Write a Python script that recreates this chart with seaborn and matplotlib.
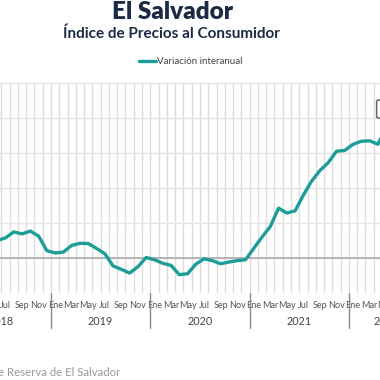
import matplotlib
matplotlib.use('Agg')
import matplotlib.pyplot as plt
import seaborn as sns
import pandas as pd
from matplotlib.patches import FancyBboxPatch
from matplotlib.transforms import blended_transform_factory

# monthly year-on-year CPI change, Jan 2018 - Sep 2022
years = [2018, 2019, 2020, 2021, 2022]
month_names = ['Ene', 'Feb', 'Mar', 'Abr', 'May', 'Jun', 'Jul', 'Ago', 'Sep', 'Oct', 'Nov', 'Dic']
variacion = [
    0.6, 0.7, 0.9, 1.0, 1.1, 1.0, 1.15, 1.49, 1.38, 1.54, 1.25, 0.42,
    0.29, 0.34, 0.72, 0.84, 0.83, 0.55, 0.25, -0.45, -0.65, -0.86, -0.5, 0.03,
    -0.1, -0.3, -0.42, -0.95, -0.9, -0.35, -0.05, -0.15, -0.33, -0.23, -0.15, -0.1,
    0.55, 1.2, 1.8, 2.85, 2.57, 2.7, 3.6, 4.4, 5.0, 5.45, 6.1, 6.15,
    6.5, 6.67, 6.7, 6.5, 7.47, 7.76, 7.63, 7.4, 7.5,
]
n = len(variacion)
df = pd.DataFrame({
    'idx': range(n),
    'year': [years[i // 12] for i in range(n)],
    'mes': [month_names[i % 12] for i in range(n)],
    'valor': variacion,
})

sns.set_style('white')
plt.rcParams['font.family'] = ['Lato', 'DejaVu Sans']

fig = plt.figure(figsize=(3.8, 3.8), dpi=100)
# plot area is wider than the canvas (chart is cropped on both sides)
ax = fig.add_axes([-0.1271, 0.2289, 1.2413, 0.5526])

sns.lineplot(data=df, x='idx', y='valor', ax=ax, color='#1c9d98', linewidth=2.4,
             label='Variación interanual', solid_joinstyle='round', solid_capstyle='round')

ax.set_xlim(-0.5, n - 0.5)
ax.set_ylim(-2, 10)
ax.set_yticks([0, 2, 4, 6, 8, 10])
ax.set_yticklabels([])
ax.set_xticks([i for i in range(n) if i % 2 == 0])
ax.set_xticklabels([df['mes'][i] for i in range(n) if i % 2 == 0], fontsize=6.5, color='#555555')
ax.set_xticks([i - 0.5 for i in range(n + 1)], minor=True)
ax.tick_params(axis='x', which='both', length=0, pad=6)
ax.tick_params(axis='y', length=0)
ax.grid(True, axis='y', color='#e3e3e3', linewidth=1)
ax.grid(True, axis='x', which='minor', color='#dddddd', linewidth=1)
ax.grid(False, axis='x', which='major')
ax.axhline(0, color='#b0b0b0', linewidth=1.3, zorder=1.5)
ax.set_xlabel('')
ax.set_ylabel('')
for s in ax.spines.values():
    s.set_visible(False)

trans = blended_transform_factory(ax.transData, ax.transAxes)
for k, yr in enumerate(years):
    start = k * 12 - 0.5
    end = min(start + 12, n - 0.5)
    if k > 0:
        ax.plot([start, start], [0, -0.167], transform=trans, color='#888888',
                linewidth=1, clip_on=False)
    ax.text((start + end) / 2, -0.138, str(yr), transform=trans, ha='center', va='center',
            fontsize=7.8, color='#444444')

box = FancyBboxPatch((50.85, 8.0), 6, 1.03, boxstyle='round,pad=0,rounding_size=0.3',
                     facecolor='white', edgecolor='#666666', linewidth=1.1, clip_on=False,
                     mutation_aspect=0.3, zorder=5)
ax.add_patch(box)

fig.text(172 / 380, 1 - 12 / 380, 'El Salvador', ha='center', va='center',
         fontsize=17.5, fontweight='heavy', color='#1b2b45')
fig.text(171 / 380, 1 - 34 / 380, 'Índice de Precios al Consumidor', ha='center', va='center',
         fontsize=11, fontweight='bold', color='#1b2b45')
ax.legend(loc='center', bbox_to_anchor=(191 / 380, 1 - 62 / 380), bbox_transform=fig.transFigure,
          frameon=False, fontsize=7, handlelength=1.7, handletextpad=0.2, labelcolor='#444444')
fig.text(120 / 380, 1 - 372 / 380, 'Fuente: Banco Central de Reserva de El Salvador',
         ha='right', va='center', fontsize=8.2, color='#999999')

fig.savefig('out.png', dpi=100)
